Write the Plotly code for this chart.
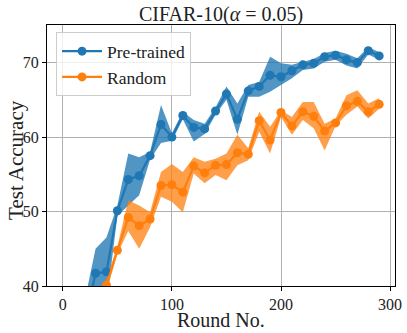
import plotly.graph_objects as go

rounds = [0, 10, 20, 30, 40, 50, 60, 70, 80, 90, 100, 110, 120, 130, 140, 150,
          160, 170, 180, 190, 200, 210, 220, 230, 240, 250, 260, 270, 280, 290]

pre_mean = [15.0, 25.0, 35.0, 41.7, 41.9, 50.1, 54.3, 54.8, 57.5, 61.7, 60.0, 62.9, 61.3, 61.1, 63.5, 65.8,
            62.4, 66.2, 66.8, 68.3, 68.1, 68.9, 69.7, 69.9, 70.8, 71.0, 70.4, 70.0, 71.6, 70.9]
pre_hi = [16.0, 27.0, 38.0, 45.0, 46.5, 50.8, 57.8, 57.3, 58.0, 64.3, 60.5, 63.4, 62.3, 61.8, 64.0, 66.8,
          64.5, 67.0, 67.4, 70.8, 69.9, 69.7, 70.1, 70.5, 71.3, 71.6, 71.2, 70.6, 72.1, 71.4]
pre_lo = [14.0, 23.0, 32.0, 38.5, 37.5, 49.4, 50.8, 52.2, 57.0, 59.2, 59.5, 62.4, 59.4, 60.4, 63.0, 65.0,
          60.3, 65.4, 65.4, 66.1, 67.0, 67.9, 69.0, 69.2, 70.1, 70.4, 69.6, 69.2, 71.1, 70.4]

rand_mean = [15.0, 22.0, 30.0, 35.0, 40.1, 44.8, 49.2, 48.1, 49.0, 53.5, 53.6, 52.6, 56.1, 55.2, 56.2, 56.3,
             57.9, 57.7, 62.2, 59.6, 63.3, 61.5, 63.4, 62.8, 60.8, 61.9, 64.2, 64.8, 63.4, 64.4]
rand_hi = [16.0, 23.5, 31.5, 37.0, 41.0, 45.3, 51.5, 50.8, 49.9, 55.3, 56.4, 55.3, 57.3, 56.7, 57.1, 57.8,
           60.3, 58.5, 63.4, 61.4, 63.6, 62.7, 64.7, 64.7, 61.8, 62.5, 65.6, 66.3, 64.5, 65.2]
rand_lo = [14.0, 20.5, 28.5, 33.0, 39.2, 44.3, 47.4, 45.0, 47.9, 52.0, 51.3, 49.9, 55.1, 53.8, 54.9, 54.2,
           56.2, 56.9, 60.7, 57.8, 62.7, 60.3, 62.3, 61.2, 58.2, 61.5, 63.0, 64.1, 62.5, 63.8]

series = [
    ("Pre-trained", pre_mean, pre_lo, pre_hi, "#1f77b4", "rgba(31,119,180,0.78)"),
    ("Random", rand_mean, rand_lo, rand_hi, "#ff7f0e", "rgba(255,127,14,0.75)"),
]

serif = "Liberation Serif"

fig = go.Figure()

for name, mean, lo, hi, col, fill in series:
    fig.add_trace(go.Scatter(
        x=rounds + rounds[::-1],
        y=hi + lo[::-1],
        fill="toself", fillcolor=fill,
        line=dict(width=0), mode="lines",
        showlegend=False, hoverinfo="skip",
    ))

for name, mean, lo, hi, col, fill in series:
    fig.add_trace(go.Scatter(
        x=rounds, y=mean, name=name,
        mode="lines+markers",
        line=dict(color=col, width=2.2),
        marker=dict(color=col, size=9),
    ))

axis_common = dict(
    showline=True, linecolor="black", linewidth=1, mirror=True,
    ticks="outside", tickcolor="black", ticklen=4,
    showgrid=True, gridcolor="#b0b0b0", gridwidth=1,
    zeroline=False, automargin=False,
    tickfont=dict(family=serif, size=16, color="#222"),
)

fig.update_layout(
    width=407, height=333,
    paper_bgcolor="white", plot_bgcolor="white",
    margin=dict(l=47, r=12, t=25, b=47),
    title=dict(text="CIFAR-10(<i>α</i> = 0.05)", x=0.5, xanchor="center",
               xref="paper", y=0.958, yanchor="middle",
               font=dict(family=serif, size=20, color="#222")),
    xaxis=dict(range=[-14.5, 304.5], tickvals=[0, 100, 200, 300], **axis_common),
    yaxis=dict(range=[40, 75.05], tickvals=[40, 50, 60, 70], **axis_common),
    legend=dict(x=0.026, y=0.972, xanchor="left", yanchor="top",
                bgcolor="rgba(255,255,255,0.8)", bordercolor="#cccccc", borderwidth=1,
                font=dict(family=serif, size=17.5, color="#222"),
                tracegroupgap=0, itemwidth=40),
    showlegend=True,
)

# axis titles as annotations so they sit where the reference has them
fig.add_annotation(text="Round No.", xref="paper", yref="paper", x=0.5, y=-0.13,
                   xanchor="center", yanchor="middle", showarrow=False,
                   font=dict(family=serif, size=20, color="#222"))
fig.add_annotation(text="Test Accuracy", xref="paper", yref="paper", x=-0.089, y=0.483,
                   xanchor="center", yanchor="middle", textangle=-90, showarrow=False,
                   font=dict(family=serif, size=21, color="#222"))

# drop the default 8px body margin so the figure fills the window
fig.write_html("out.html", config={"displayModeBar": False},
               post_script="document.body.style.margin='0';")
